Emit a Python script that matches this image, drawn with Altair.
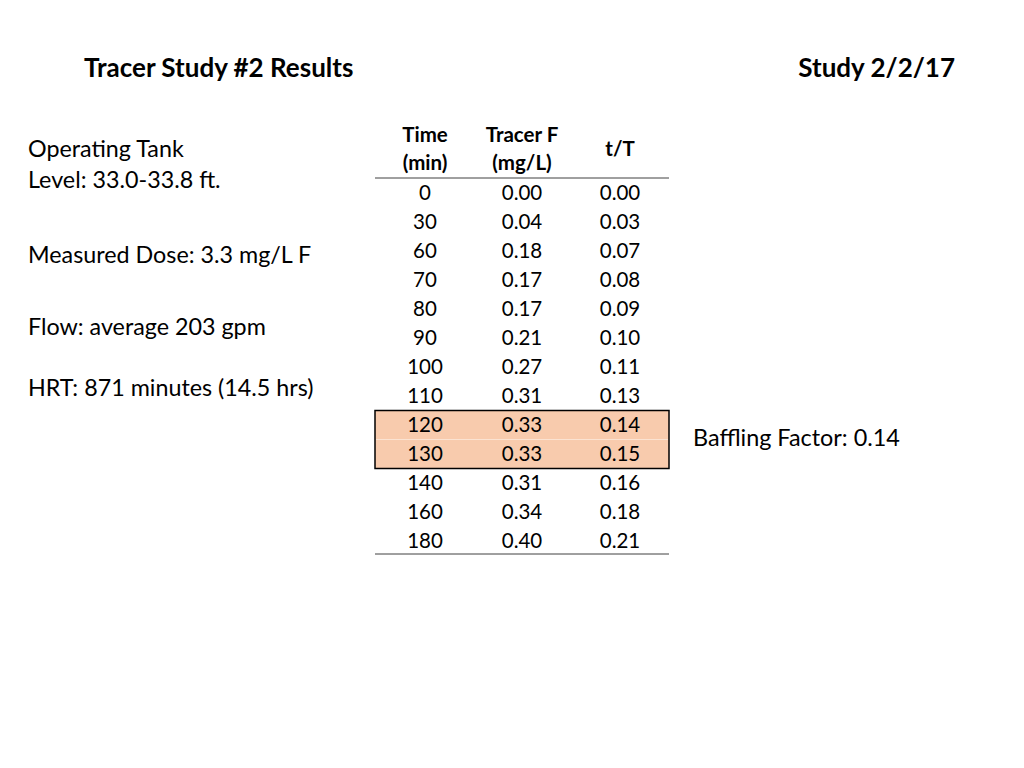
import altair as alt
import pandas as pd

# ---- data ----
time_min = [0, 30, 60, 70, 80, 90, 100, 110, 120, 130, 140, 160, 180]
tracer_f = [0.00, 0.04, 0.18, 0.17, 0.17, 0.21, 0.27, 0.31, 0.33, 0.33, 0.31, 0.34, 0.40]
t_over_T = [0.00, 0.03, 0.07, 0.08, 0.09, 0.10, 0.11, 0.13, 0.14, 0.15, 0.16, 0.18, 0.21]
highlight_times = [120, 130]
header_line1 = ["Time", "Tracer F", "t/T"]
header_line2 = ["(min)", "(mg/L)", ""]
info_lines = ["Operating Tank", "Level: 33.0-33.8 ft.", "Measured Dose: 3.3 mg/L F",
              "Flow: average 203 gpm", "HRT: 871 minutes (14.5 hrs)"]
title_left = "Tracer Study #2 Results"
title_right = "Study 2/2/17"
baffling = "Baffling Factor: 0.14"

# ---- layout (chart pixel space) ----
W, H = 1008, 752
FONT = "Lato"
ROW0, ROW_H = 186, 29
COL_X = [417, 514, 612]
TBL_L, TBL_R = 367, 661

xs = alt.Scale(domain=[0, W], nice=False, zero=False)
ys = alt.Scale(domain=[0, H], nice=False, zero=False, reverse=True)

def X(f="x"):
    return alt.X(f"{f}:Q", scale=xs, axis=None)

def Y(f="y"):
    return alt.Y(f"{f}:Q", scale=ys, axis=None)

rows = []
for i, (t, f, r) in enumerate(zip(time_min, tracer_f, t_over_T)):
    y = ROW0 + i * ROW_H
    rows.append({"x": COL_X[0], "y": y, "txt": str(t)})
    rows.append({"x": COL_X[1], "y": y, "txt": f"{f:.2f}"})
    rows.append({"x": COL_X[2], "y": y, "txt": f"{r:.2f}"})
cells = pd.DataFrame(rows)

hl_idx = [time_min.index(t) for t in highlight_times]
hl = pd.DataFrame([{
    "x": TBL_L, "x2": TBL_R,
    "y": ROW0 + min(hl_idx) * ROW_H - ROW_H / 2 - 1,
    "y2": ROW0 + max(hl_idx) * ROW_H + ROW_H / 2 - 1,
}])
hl_sep = pd.DataFrame([{"x": TBL_L + 1, "x2": TBL_R - 1,
                        "y": ROW0 + i * ROW_H + ROW_H / 2 - 1} for i in hl_idx[:-1]])

heads = []
for cx, a, b in zip(COL_X, header_line1, header_line2):
    if b:
        heads.append({"x": cx, "y": 128, "txt": a})
        heads.append({"x": cx, "y": 156, "txt": b})
    else:
        heads.append({"x": cx, "y": 142, "txt": a})
heads = pd.DataFrame(heads)

rules = pd.DataFrame([
    {"x": TBL_L, "x2": TBL_R, "y": 170},
    {"x": TBL_L, "x2": TBL_R, "y": ROW0 + (len(time_min) - 1) * ROW_H + 12},
])

info_y = [142, 173, 248, 320, 381]
info = pd.DataFrame({"x": [20] * len(info_lines), "y": info_y, "txt": info_lines})

titles = pd.DataFrame([
    {"x": 76, "y": 61, "txt": title_left},
    {"x": 947, "y": 61, "txt": title_right},
])

rect_layer = alt.Chart(hl).mark_rect(fill="#F8CBAD", stroke="#000000", strokeWidth=1.5).encode(
    x=X(), x2="x2:Q", y=Y(), y2="y2:Q")
sep_layer = alt.Chart(hl_sep).mark_rule(color="#FBE3D2", strokeWidth=1).encode(
    x=X(), x2="x2:Q", y=Y())
rule_layer = alt.Chart(rules).mark_rule(color="#404040", strokeWidth=1).encode(
    x=X(), x2="x2:Q", y=Y())
cell_layer = alt.Chart(cells).mark_text(font=FONT, fontSize=20.5, color="#000000",
                                        align="center", baseline="middle").encode(
    x=X(), y=Y(), text="txt:N")
head_layer = alt.Chart(heads).mark_text(font=FONT, fontSize=20.5, fontWeight="bold", color="#000000",
                                        align="center", baseline="middle").encode(
    x=X(), y=Y(), text="txt:N")
info_layer = alt.Chart(info).mark_text(font=FONT, fontSize=23.3, color="#000000",
                                       align="left", baseline="middle").encode(
    x=X(), y=Y(), text="txt:N")
title_l = alt.Chart(titles.iloc[[0]]).mark_text(font=FONT, fontSize=26, fontWeight="bold",
                                                color="#000000", align="left", baseline="middle").encode(
    x=X(), y=Y(), text="txt:N")
title_r = alt.Chart(titles.iloc[[1]]).mark_text(font=FONT, fontSize=26, fontWeight="bold",
                                                color="#000000", align="right", baseline="middle").encode(
    x=X(), y=Y(), text="txt:N")
baff = alt.Chart(pd.DataFrame([{"x": 685, "y": 431, "txt": baffling}])).mark_text(
    font=FONT, fontSize=23.4, color="#000000", align="left", baseline="middle").encode(
    x=X(), y=Y(), text="txt:N")

chart = alt.layer(rect_layer, sep_layer, rule_layer, cell_layer, head_layer,
                  info_layer, title_l, title_r, baff).properties(
    width=W, height=H, padding=0, background="#FFFFFF"
).configure_view(stroke=None)

chart.save("out.html", embed_options={"renderer": "svg", "actions": False})
